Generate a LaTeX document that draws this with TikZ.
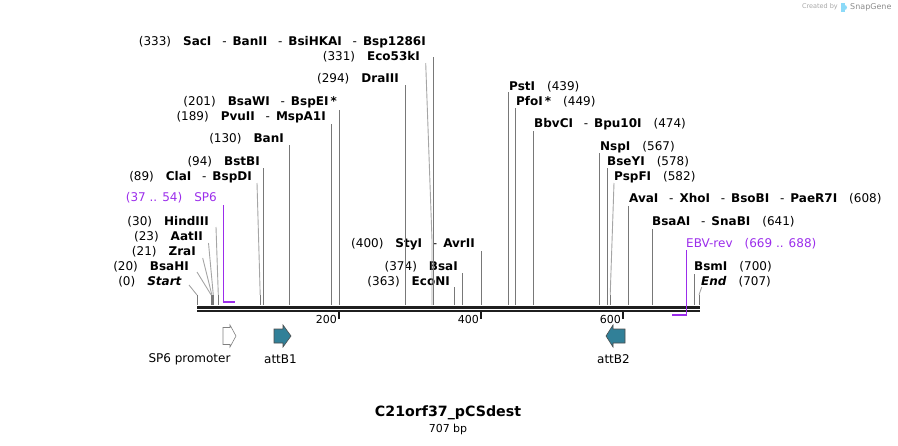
\documentclass[tikz,border=0pt]{standalone}
\usepackage{fontspec}
\setmainfont{DejaVu Sans}
\definecolor{primer}{RGB}{155,45,235}
\definecolor{teal}{RGB}{49,128,152}
\definecolor{enzline}{RGB}{120,120,120}
\definecolor{slantline}{RGB}{165,165,165}
\newcommand\ngap{\hspace{1em}}
\newcommand\esep{\hspace{0.9em}-\hspace{0.5em}}
\begin{document}
\begin{tikzpicture}[x=1pt,y=-1pt,
  lab/.style={inner sep=0pt, text height=8.5pt, text depth=2.5pt, font=\fontsize{12}{14}\selectfont},
  leftlab/.style={lab, anchor=east},
  rightlab/.style={lab, anchor=west},
  enz/.style={draw=enzline, line width=0.9pt},
  slant/.style={draw=slantline, line width=0.9pt},
  primerline/.style={draw=primer, line width=1pt},
  primerbar/.style={draw=primer, line width=2pt},
  feat/.style={fill=teal, draw=black!70, line width=0.6pt, line join=miter},
  promo/.style={fill=white, draw=gray, line width=0.6pt},
  featlab/.style={inner sep=0pt, font=\fontsize{12}{14}\selectfont},
  ticklab/.style={inner sep=0pt, anchor=east, font=\fontsize{11}{13}\selectfont},
]
\useasboundingbox (0,0) rectangle (898,445);

% backbone
\draw[line width=3pt, black!88] (197,307) coordinate (bbL) -- (700,307) coordinate (bbR);
\draw[line width=2.2pt, black!88] (197,311) -- (700,311);

% ticks
\foreach \x/\t in {339/200,481/400,623/600}{
  \draw[line width=1.8pt, black!90] (\x,312) -- (\x,319);
  \node[ticklab] (tick\t) at (\x-2,319) {\t};
}

% ---------- left-side labels ----------
\node[leftlab] (l333) at (426,42) {(333)\ngap\textbf{SacI}\esep\textbf{BanII}\esep\textbf{BsiHKAI}\esep\textbf{Bsp1286I}};
\node[leftlab] (l331) at (420,57) {(331)\ngap\textbf{Eco53kI}};
\node[leftlab] (l294) at (399,79) {(294)\ngap\textbf{DraIII}};
\node[leftlab] (l201) at (337,102) {(201)\ngap\textbf{BsaWI}\esep\textbf{BspEI\,*}};
\node[leftlab] (l189) at (326,117) {(189)\ngap\textbf{PvuII}\esep\textbf{MspA1I}};
\node[leftlab] (l130) at (284,139) {(130)\ngap\textbf{BanI}};
\node[leftlab] (l94)  at (260,162) {(94)\ngap\textbf{BstBI}};
\node[leftlab] (l89)  at (252,177) {(89)\ngap\textbf{ClaI}\esep\textbf{BspDI}};
\node[leftlab, text=primer] (lsp6) at (217,198) {(37 .. 54)\ngap SP6};
\node[leftlab] (l30)  at (209,222) {(30)\ngap\textbf{HindIII}};
\node[leftlab] (l23)  at (203,237) {(23)\ngap\textbf{AatII}};
\node[leftlab] (l21)  at (196,252) {(21)\ngap\textbf{ZraI}};
\node[leftlab] (l20)  at (189,267) {(20)\ngap\textbf{BsaHI}};
\node[leftlab] (l0)   at (182,282) {(0)\ngap\textbf{\itshape Start}};

% middle
\node[leftlab] (l400) at (475,244) {(400)\ngap\textbf{StyI}\esep\textbf{AvrII}};
\node[leftlab] (l374) at (458,267) {(374)\ngap\textbf{BsaI}};
\node[leftlab] (l363) at (450,282) {(363)\ngap\textbf{EcoNI}};

% ---------- right-side labels ----------
\node[rightlab] (r439) at (509,87) {\textbf{PstI}\ngap(439)};
\node[rightlab] (r449) at (516,102) {\textbf{PfoI\,*}\ngap(449)};
\node[rightlab] (r474) at (534,124) {\textbf{BbvCI}\esep\textbf{Bpu10I}\ngap(474)};
\node[rightlab] (r567) at (600,147) {\textbf{NspI}\ngap(567)};
\node[rightlab] (r578) at (607,162) {\textbf{BseYI}\ngap(578)};
\node[rightlab] (r582) at (614,177) {\textbf{PspFI}\ngap(582)};
\node[rightlab] (r608) at (629,199) {\textbf{AvaI}\esep\textbf{XhoI}\esep\textbf{BsoBI}\esep\textbf{PaeR7I}\ngap(608)};
\node[rightlab] (r641) at (652,222) {\textbf{BsaAI}\esep\textbf{SnaBI}\ngap(641)};
\node[rightlab, text=primer] (rebv) at (686,244) {EBV-rev\ngap(669 .. 688)};
\node[rightlab] (r700) at (694,267) {\textbf{BsmI}\ngap(700)};
\node[rightlab] (r707) at (701,282) {\textbf{\itshape End}\ngap(707)};

% ---------- cut-site lines ----------
\foreach \x/\y in {433.4/57, 405.7/85, 339.7/110, 331.2/124, 289.3/145, 263.7/168,
                   481/251, 462.5/273, 454.7/287,
                   508.7/92, 515.8/108, 533.5/131, 599.6/153, 607.4/168,
                   628.7/206, 652.1/229, 694/274}{
  \draw[enz] (\x,\y) -- (\x,305);
}
\draw[slant] (425.7,63) -- (432,240) -- (432,305);
\draw[slant] (257,183) -- (260.2,295);
\draw[enz] (260.2,295) -- (260.2,305);
\draw[slant] (216,227) -- (218.3,295);
\draw[enz] (218.3,295) -- (218.3,305);
\draw[slant] (208.5,243) -- (213.3,295);
\draw[slant] (202.7,258) -- (211.9,295);
\draw[slant] (197,272) -- (211.2,295);
\draw[enz, line width=1.1pt] (211.2,295) -- (211.2,305);
\draw[enz, line width=1.1pt] (212.2,295) -- (212.2,305);
\draw[enz, line width=1.1pt] (213.3,295) -- (213.3,305);
\draw[slant] (189,285) -- (197,295);
\draw[enz] (197,295) -- (197,305);
\draw[slant] (614,183) -- (610.2,295);
\draw[enz] (610.2,295) -- (610.2,305);
\draw[slant] (701.7,287) -- (699,295);
\draw[enz] (699,295) -- (699,305);

% primers
\draw[primerline] (223,205) -- (223,302);
\draw[primerbar] (222.5,302) -- (235,302);
\draw[primerline] (686,250) -- (686,316);
\draw[primerbar] (672,315) -- (686.5,315);

% ---------- features ----------
\draw[promo] (223,327.5) -- (230,327.5) -- (230,325) -- (236,336) -- (230,347) -- (230,344.5) -- (223,344.5) -- cycle;
\node[featlab] (fsp6) at (189.5,359) {SP6 promoter};
\draw[feat] (274,329) -- (283,329) -- (283,325) -- (291,336) -- (283,347) -- (283,343) -- (274,343) -- cycle;
\node[featlab] (fattb1) at (280.5,359) {attB1};
\draw[feat] (625,329) -- (613,329) -- (613,325) -- (606,336) -- (613,347) -- (613,343) -- (625,343) -- cycle;
\node[featlab] (fattb2) at (613.5,359) {attB2};

% ---------- title ----------
\node[inner sep=0pt, font=\fontsize{14.2}{16}\selectfont\bfseries] (title) at (448,413) {C21orf37\_pCSdest};
\node[inner sep=0pt, font=\fontsize{11}{13}\selectfont] (size) at (448,429) {707 bp};

% ---------- SnapGene credit ----------
\node[inner sep=0pt, anchor=east, text=black!35, font=\fontsize{6.5}{8}\selectfont] (cred) at (838,7) {Created by};
\fill[cyan!45] (841,3) rectangle (844.5,12);
\fill[cyan!45] (844.5,7.5) circle (2.5);
\node[inner sep=0pt, anchor=west, text=black!45, font=\fontsize{8}{9}\selectfont] (sg) at (850,7) {SnapGene};
\end{tikzpicture}
\end{document}
